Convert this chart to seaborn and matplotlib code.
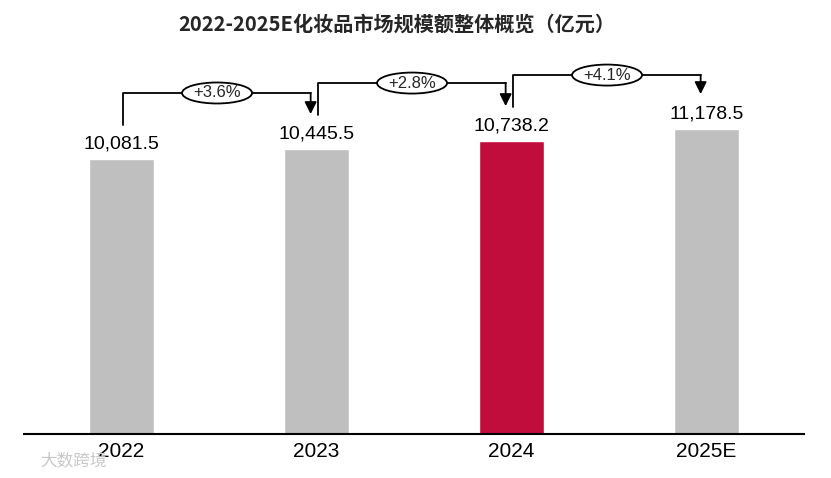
import matplotlib.pyplot as plt
from matplotlib.patches import Ellipse
import seaborn as sns

years = ['2022', '2023', '2024', '2025E']
values = [10081.5, 10445.5, 10738.2, 11178.5]
growth = ['+3.6%', '+2.8%', '+4.1%']
bar_colors = ['#BFBFBF', '#BFBFBF', '#C00D3B', '#BFBFBF']

sns.set_theme(style='white')
plt.rcParams['font.family'] = ['Liberation Sans', 'Noto Sans CJK SC', 'DejaVu Sans']

fig = plt.figure(figsize=(8.31, 4.78), dpi=100)
ax = fig.add_axes([24 / 831, 44 / 478, 780 / 831, 374 / 478])

sns.barplot(x=years, y=values, hue=years, palette=bar_colors, legend=False,
            width=0.33, saturation=1, ax=ax)

ymax = 13710
ax.set_xlim(-0.5, 3.5)
ax.set_ylim(0, ymax)
unit = ymax / 374   # data units per pixel (y)
xpx = 1 / 195       # data units per pixel (x)

# axis styling
for side in ['left', 'top', 'right']:
    ax.spines[side].set_visible(False)
ax.spines['bottom'].set_color('black')
ax.spines['bottom'].set_linewidth(1.5)
ax.set_yticks([])
ax.set_xlabel('')
ax.set_ylabel('')
ax.tick_params(axis='x', length=0, pad=6)
for lab in ax.get_xticklabels():
    lab.set_fontsize(15)
    lab.set_color('black')

# value labels
for i, v in enumerate(values):
    ax.text(i, v + 15 * unit, f'{v:,.1f}', ha='center', va='center',
            fontsize=14, color='black')

# growth brackets
for i in range(len(growth)):
    y0 = values[i] + 34 * unit
    yh = values[i] + 66 * unit
    y1 = values[i + 1] + 35 * unit
    x0 = i + 0.01
    x1 = i + 1 - 0.03
    ax.plot([x0, x0, x1], [y0, yh, yh], color='black', lw=1.3)
    ax.annotate('', xy=(x1, y1), xytext=(x1, yh),
                arrowprops=dict(arrowstyle='-|>', color='black', lw=1.3,
                                mutation_scale=18, shrinkA=0, shrinkB=0))
    cx = (x0 + x1) / 2
    ax.add_patch(Ellipse((cx, yh), 70 * xpx, 21 * unit, fc='white', ec='black',
                         lw=1.3, zorder=4))
    ax.text(cx, yh, growth[i], ha='center', va='center', fontsize=12, zorder=5)

fig.text(397 / 831, 1 - 24 / 478, '2022-2025E化妆品市场规模额整体概览（亿元）',
         ha='center', va='center', fontsize=14.5, fontweight='bold',
         family=['Noto Sans CJK SC', 'DejaVu Sans'])
fig.text(40 / 831, 1 - 462 / 478, '大数跨境', ha='left', va='center', fontsize=12,
         color='#c8c8c8', family=['Noto Sans CJK SC', 'DejaVu Sans'])

fig.savefig('out.png', dpi=100)
plt.close()
